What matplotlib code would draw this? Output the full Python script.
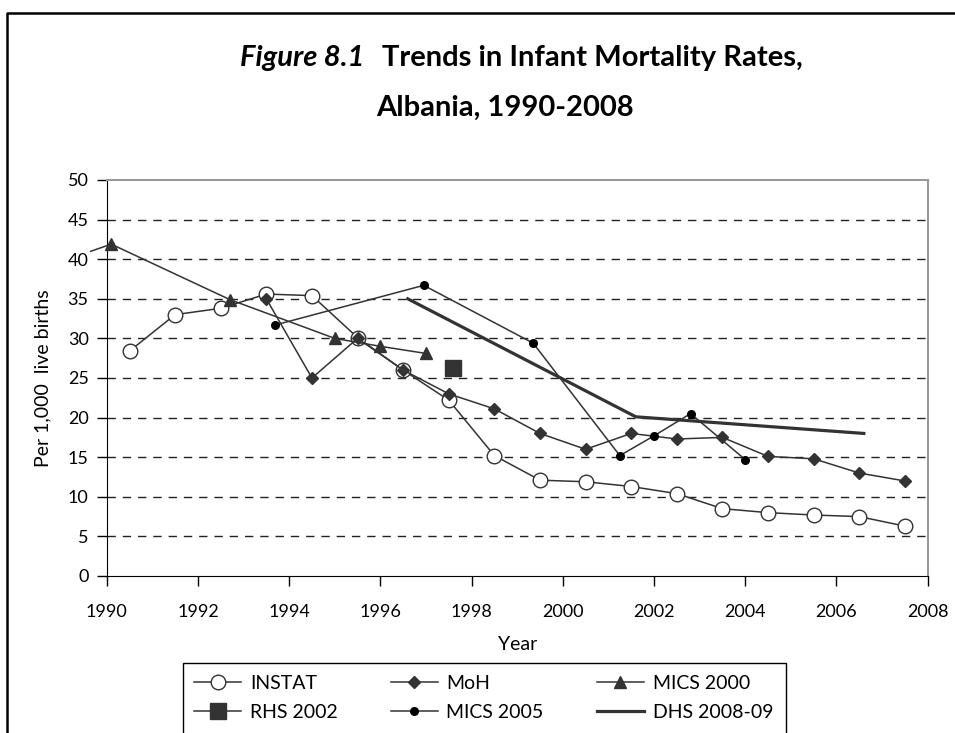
import numpy as np
import matplotlib
matplotlib.use("Agg")
import matplotlib.pyplot as plt
from matplotlib.lines import Line2D
from matplotlib.patches import Rectangle

plt.rcParams['font.family'] = ['Lato', 'DejaVu Sans']

# --- data ---
instat_x = [1990.5, 1991.5, 1992.5, 1993.5, 1994.5, 1995.5, 1996.5, 1997.5, 1998.5,
            1999.5, 2000.5, 2001.5, 2002.5, 2003.5, 2004.5, 2005.5, 2006.5, 2007.5]
instat_y = [28.4, 33.0, 33.8, 35.6, 35.4, 30.1, 26.0, 22.2, 15.2,
            12.1, 11.9, 11.3, 10.4, 8.5, 8.0, 7.7, 7.5, 6.3]

moh_x = [1993.5, 1994.5, 1995.5, 1996.5, 1997.5, 1998.5, 1999.5, 2000.5,
         2001.5, 2002.5, 2003.5, 2004.5, 2005.5, 2006.5, 2007.5]
moh_y = [35.0, 25.0, 30.0, 26.0, 23.0, 21.1, 18.0, 16.0,
         18.0, 17.3, 17.5, 15.1, 14.8, 13.0, 12.0]

# first point has no marker: the line runs out past the y axis
mics2000_x = [1989.65, 1990.1, 1992.7, 1995.0, 1996.0, 1997.0]
mics2000_y = [41.0, 41.9, 34.9, 30.0, 29.0, 28.1]

rhs_x = [1997.6]
rhs_y = [26.2]

mics2005_x = [1993.7, 1996.95, 1999.35, 2001.25, 2002.0, 2002.8, 2004.0]
mics2005_y = [31.7, 36.7, 29.4, 15.2, 17.7, 20.5, 14.7]

dhs_x = [1996.6, 2001.6, 2006.6]
dhs_y = [35.0, 20.1, 18.0]

xticks = list(range(1990, 2009, 2))
yticks = list(range(0, 51, 5))

W, H = 955, 733
fig = plt.figure(figsize=(W / 100, H / 100), dpi=100)
ax = fig.add_axes([106.7 / W, 1 - 576 / H, (927.7 - 106.7) / W, (576 - 180) / H])

dark = '#333333'
h_instat, = ax.plot(instat_x, instat_y, color=dark, lw=1.1, marker='o', ms=10.5,
                    mfc='white', mec=dark, mew=1.0, label='INSTAT', zorder=3)
h_moh, = ax.plot(moh_x, moh_y, color=dark, lw=1.1, marker='D', ms=6.5,
                 mfc=dark, mec=dark, label='MoH', zorder=4)
h_m2000, = ax.plot(mics2000_x, mics2000_y, color=dark, lw=1.1, marker='^', ms=9,
                   mfc=dark, mec=dark, markevery=list(range(1, len(mics2000_x))),
                   label='MICS 2000', zorder=5, clip_on=False)
h_rhs, = ax.plot(rhs_x, rhs_y, color=dark, lw=1.1, marker='s', ms=11,
                 mfc=dark, mec=dark, label='RHS 2002', zorder=6)
h_m2005, = ax.plot(mics2005_x, mics2005_y, color=dark, lw=1.1, marker='o', ms=5.5,
                   mfc='black', mec='black', label='MICS 2005', zorder=7)
h_dhs, = ax.plot(dhs_x, dhs_y, color=dark, lw=2.3, label='DHS 2008-09', zorder=8)

ax.set_xlim(1990, 2008)
ax.set_ylim(0, 50)
ax.set_xticks(xticks)
ax.set_yticks(yticks)
ax.tick_params(axis='x', direction='out', length=7, width=1, pad=13, labelsize=13)
ax.tick_params(axis='y', direction='out', length=7, width=1, pad=6, labelsize=13)
for y in yticks[1:-1]:
    ax.axhline(y, color='#222222', lw=1.0, ls=(0, (6, 5)), zorder=1)

ax.spines['left'].set_color('black')
ax.spines['bottom'].set_color('black')
ax.spines['top'].set_color('#999999')
ax.spines['right'].set_color('#999999')
ax.spines['top'].set_linewidth(1.5)
ax.spines['right'].set_linewidth(1.5)

ax.set_xlabel('Year', fontsize=14, labelpad=12)
ax.set_ylabel('Per 1,000  live births', fontsize=14, labelpad=12)

# title, two styles on the first line
fig.text(364 / W, 1 - 58 / H, 'Figure 8.1', fontsize=21, fontweight='bold',
         fontstyle='italic', ha='right', va='center')
fig.text(382 / W, 1 - 58 / H, 'Trends in Infant Mortality Rates,', fontsize=21,
         fontweight='bold', ha='left', va='center')
fig.text(505 / W, 1 - 108 / H, 'Albania, 1990-2008', fontsize=21,
         fontweight='bold', ha='center', va='center')

# outer frame: left and top edges only
fig.add_artist(Line2D([7 / W, 7 / W, 1], [0, 1 - 13 / H, 1 - 13 / H],
                      transform=fig.transFigure, color='black', lw=1.8))

# legend fills column by column, so order it to read row-wise like the original
handles = [h_instat, h_rhs, h_moh, h_m2005, h_m2000, h_dhs]
leg = fig.legend(handles=handles, labels=[h.get_label() for h in handles],
                 loc='upper left', bbox_to_anchor=(182.7 / W, 1 - 663.3 / H),
                 ncol=3, fontsize=14, frameon=False,
                 handlelength=2.4, columnspacing=2.75,
                 borderpad=0.6, labelspacing=0.6, handletextpad=0.45,
                 borderaxespad=0)
# the legend box runs off the bottom of the page in the original
fig.add_artist(Rectangle((182.7 / W, -0.02), (786 - 182.7) / W, (733 - 663.3) / H + 0.02,
                         transform=fig.transFigure, fill=False,
                         edgecolor='black', lw=1.0))

fig.savefig('out.png', dpi=100)
